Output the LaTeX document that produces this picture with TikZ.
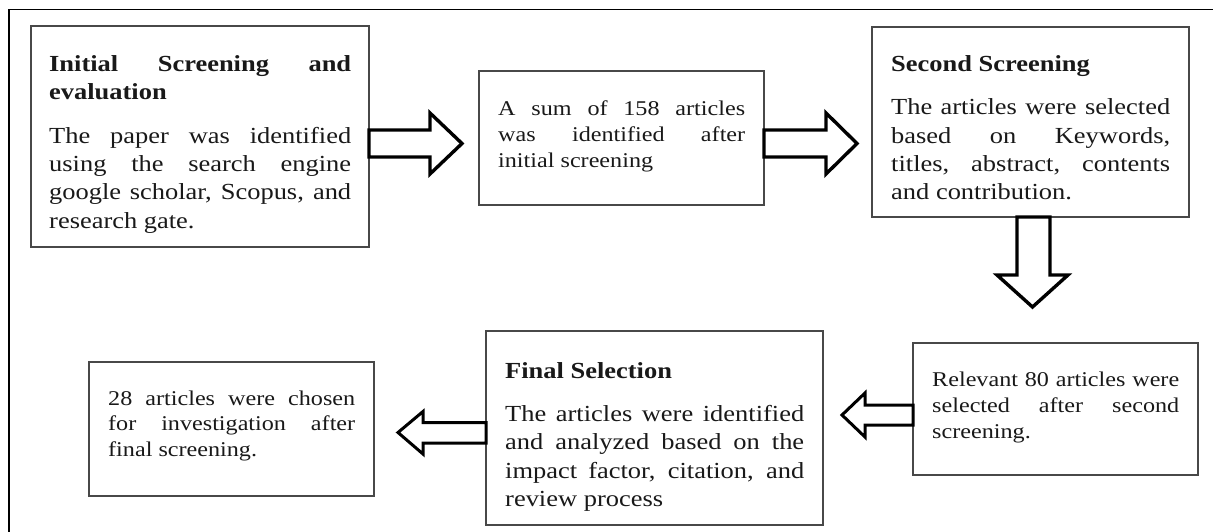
\documentclass[tikz,border=0pt]{standalone}
\usepackage{fontspec}
\setmainfont{Liberation Serif}[FakeStretch=1.15]
\usetikzlibrary{calc}
\definecolor{boxgray}{RGB}{72,72,72}
\definecolor{ink}{RGB}{25,25,25}
\hyphenpenalty=10000
\tolerance=10000
\tikzset{
  boxnode/.style={draw=boxgray, line width=1.6pt, fill=white, inner sep=0pt, outer sep=0pt, anchor=north west},
  bigtxt/.style={inner sep=0pt, anchor=base west, align=justify, text=ink, font=\fontsize{23}{28.3}\selectfont},
  smalltxt/.style={inner sep=0pt, anchor=base west, align=justify, text=ink, font=\fontsize{21}{25.7}\selectfont},
  blockarrow/.style={draw=black, line width=3.4pt, fill=white, line join=miter},
  thinarrow/.style={draw=black, line width=3pt, fill=white, line join=miter},
  frameline/.style={draw=black, line width=1.3pt}
}
\begin{document}
\begin{tikzpicture}[x=1pt, y=-1pt]
\useasboundingbox (0,0) rectangle (1213,532);
\fill[white] (0,0) rectangle (1213,532);
\draw[frameline] (9,532) -- (9,9.3) -- (1213,9.3);

% boxes
\node[boxnode, minimum width=338pt, minimum height=221pt] (b1) at (31,26) {};
\node[boxnode, minimum width=285pt, minimum height=134pt] (b2) at (479,71) {};
\node[boxnode, minimum width=317pt, minimum height=190pt] (b3) at (872,27) {};
\node[boxnode, minimum width=285pt, minimum height=132pt] (b4) at (913,343) {};
\node[boxnode, minimum width=337pt, minimum height=194pt] (b5) at (486,331) {};
\node[boxnode, minimum width=285pt, minimum height=134pt] (b6) at (89,362) {};

% texts
\node[bigtxt, text width=302pt] (t1) at (49,71.7) {\textbf{Initial Screening and\linebreak evaluation}\par\vspace{15pt}The paper was identified\linebreak using the search engine\linebreak google scholar, Scopus, and\linebreak research gate.};
\node[smalltxt, text width=247pt] (t2) at (498,115.7) {A sum of 158 articles\linebreak was identified after\linebreak initial screening};
\node[bigtxt, text width=279pt] (t3) at (891,71.7) {\textbf{Second Screening}\par\vspace{15pt}The articles were selected\linebreak based on Keywords,\linebreak titles, abstract, contents\linebreak and contribution.};
\node[smalltxt, text width=247pt] (t4) at (932,386.7) {Relevant 80 articles were\linebreak selected after second\linebreak screening.};
\node[bigtxt, text width=299pt] (t5) at (505,378.3) {\textbf{Final Selection}\par\vspace{15pt}The articles were identified\linebreak and analyzed based on the\linebreak impact factor, citation, and\linebreak review process};
\node[smalltxt, text width=247pt] (t6) at (108,405) {28 articles were chosen\linebreak for investigation after\linebreak final screening.};

% block arrows
\draw[blockarrow] (b1.east |- 0,130) -- (430,130) -- (430,113) -- (462,143.5) -- (430,174) -- (430,157) -- (b1.east |- 0,157) -- cycle;
\draw[blockarrow] (b2.east |- 0,130) -- (826,130) -- (826,113) -- (857,143.5) -- (826,174) -- (826,157) -- (b2.east |- 0,157) -- cycle;
\draw[blockarrow] (b3.south -| 1017,0) -- (1017,275) -- (997,275) -- (1032.5,307) -- (1068,275) -- (1050,275) -- (b3.south -| 1050,0) -- cycle;
\draw[thinarrow] (b4.west |- 0,405) -- (865,405) -- (865,393) -- (842,415) -- (865,437) -- (865,425) -- (b4.west |- 0,425) -- cycle;
\draw[thinarrow] (b5.west |- 0,422.5) -- (423,422.5) -- (423,411.5) -- (398,432.5) -- (423,454) -- (423,443) -- (b5.west |- 0,443) -- cycle;
\end{tikzpicture}
\end{document}
